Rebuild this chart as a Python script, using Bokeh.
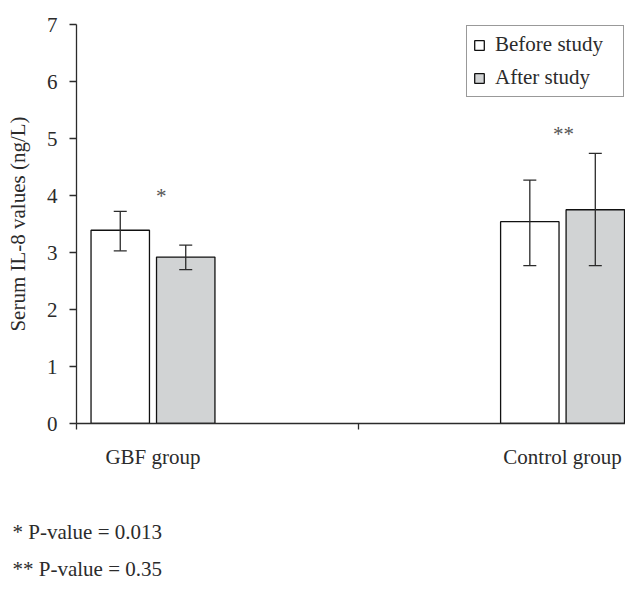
from bokeh.plotting import figure
from bokeh.models import (Range1d, FixedTicker, ColumnDataSource, Whisker, TeeHead,
                          Legend, LegendItem, Title)
from bokeh.core.properties import value
from bokeh.embed import file_html
from bokeh.resources import INLINE

# ---- data ----
groups = ["GBF group", "Control group"]
before = [3.39, 3.54]
after = [2.92, 3.75]
before_lo = [3.03, 2.77]
before_hi = [3.72, 4.27]
after_lo = [2.70, 2.77]
after_hi = [3.13, 4.74]
stars = ["*", "**"]
star_y = [4.0, 5.08]
y_ticks = [0, 1, 2, 3, 4, 5, 6, 7]
footnotes = ["* P-value = 0.013", "** P-value = 0.35"]

# ---- layout positions (axis units) ----
group_pos = [0.271, 1.722]
star_x = [0.30, 1.725]
bar_offset = 0.116
bar_width = 0.207

FONT = "Liberation Serif"
FS = "21px"
DARK = "#2b2b2b"

src_b = ColumnDataSource(dict(x=[g - bar_offset for g in group_pos], top=before,
                              lo=before_lo, hi=before_hi))
src_a = ColumnDataSource(dict(x=[g + bar_offset for g in group_pos], top=after,
                              lo=after_lo, hi=after_hi))
src_s = ColumnDataSource(dict(x=star_x, y=star_y, t=stars))

p = figure(width=625, height=584, x_range=Range1d(0, 1.945), y_range=Range1d(0, 7),
           output_backend="svg", toolbar_location=None,
           min_border_left=76, min_border_right=0, min_border_top=24,
           min_border_bottom=161)
p.outline_line_color = None
p.grid.visible = False

rb = p.vbar(x="x", top="top", width=bar_width, source=src_b, fill_color="white",
            line_color="#111111", line_width=1.3)
ra = p.vbar(x="x", top="top", width=bar_width, source=src_a, fill_color="#d1d3d4",
            line_color="#111111", line_width=1.3)

for s in (src_b, src_a):
    w = Whisker(base="x", lower="lo", upper="hi", source=s, line_color=DARK, line_width=1.3,
                level="overlay",
                upper_head=TeeHead(size=13, line_color=DARK, line_width=1.3),
                lower_head=TeeHead(size=13, line_color=DARK, line_width=1.3))
    p.add_layout(w)

p.text(x="x", y="y", text="t", source=src_s, text_font=value(FONT), text_font_size=FS,
       text_color="#555555", text_align="center", text_baseline="alphabetic")

# axes
p.yaxis.ticker = FixedTicker(ticks=y_ticks)
p.yaxis.major_tick_out = 7
p.yaxis.major_tick_in = 0
p.yaxis.minor_tick_out = 0
p.yaxis.minor_tick_in = 0
p.yaxis.major_label_standoff = 12
p.yaxis.major_label_text_font = FONT
p.yaxis.major_label_text_font_size = FS
p.yaxis.major_label_text_color = DARK
p.yaxis.axis_label = "Serum IL-8 values (ng/L)"
p.yaxis.axis_label_text_font = FONT
p.yaxis.axis_label_text_font_size = FS
p.yaxis.axis_label_text_font_style = "normal"
p.yaxis.axis_label_text_color = DARK
p.yaxis.axis_label_standoff = 14

p.xaxis.ticker = FixedTicker(ticks=group_pos, minor_ticks=[0, 1])
p.xaxis.major_label_overrides = {group_pos[0]: groups[0], group_pos[1]: groups[1]}
p.xaxis.major_tick_out = 0
p.xaxis.major_tick_in = 0
p.xaxis.minor_tick_out = 6
p.xaxis.minor_tick_in = 0
p.xaxis.major_label_standoff = 15
p.xaxis.major_label_text_font = FONT
p.xaxis.major_label_text_font_size = FS
p.xaxis.major_label_text_color = DARK

for ax in (p.xaxis, p.yaxis):
    ax.axis_line_color = DARK
    ax.axis_line_width = 1.3
    ax.major_tick_line_color = DARK
    ax.minor_tick_line_color = DARK
    ax.major_tick_line_width = 1.3
    ax.minor_tick_line_width = 1.3

legend = Legend(items=[LegendItem(label="Before study", renderers=[rb]),
                       LegendItem(label="After study", renderers=[ra])],
                location="top_right", orientation="vertical",
                label_text_font=FONT, label_text_font_size=FS, label_text_color=DARK,
                glyph_width=12, glyph_height=12, label_height=24, label_width=122,
                label_standoff=10, spacing=8, padding=6, margin=1,
                border_line_color="#333333", border_line_width=1.2,
                background_fill_alpha=1.0)
p.add_layout(legend)

# spacer between the x axis and the footnotes
p.add_layout(Title(text=" ", standoff=9, text_font=FONT, text_font_size=FS,
                   text_font_style="normal"), "below")
for t, so in zip(footnotes, [22, 0]):
    p.add_layout(Title(text=t, align="left", offset=-64, standoff=so,
                       text_font=FONT, text_font_size=FS, text_color=DARK,
                       text_font_style="normal"), "below")

open("out.html", "w").write(file_html(p, INLINE))
